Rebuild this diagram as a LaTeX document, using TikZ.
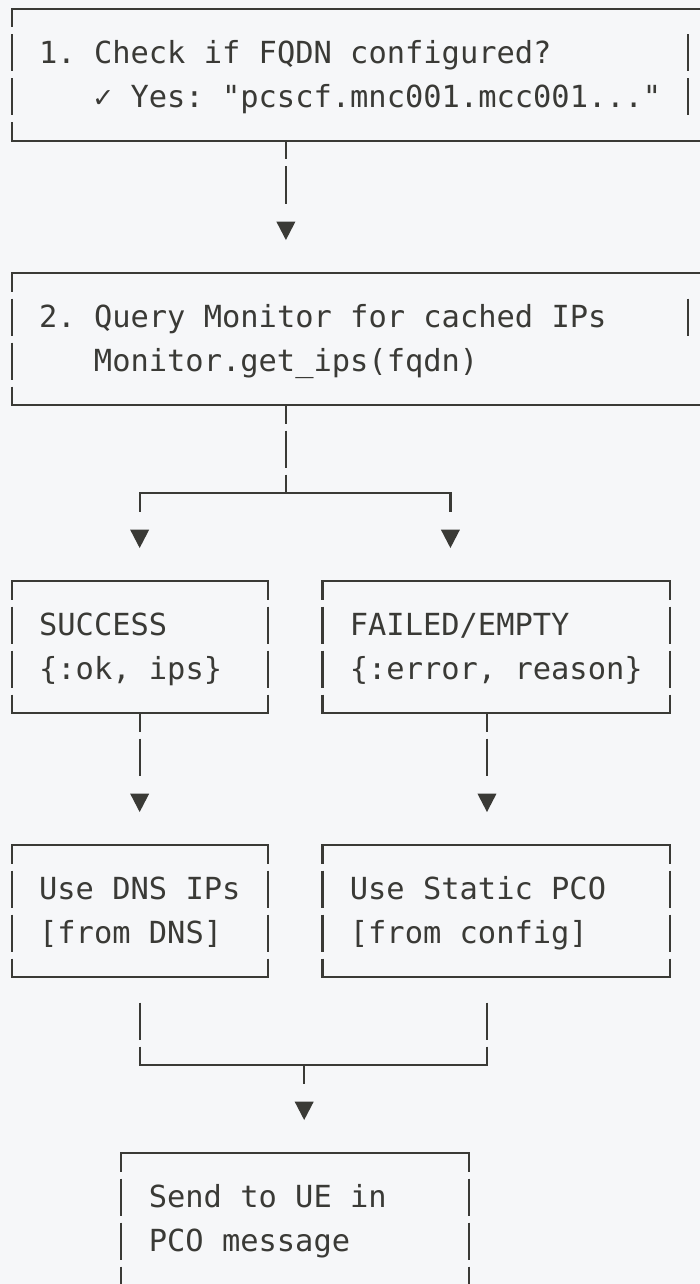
\documentclass[tikz,border=0pt]{standalone}
\usepackage{fontspec}
\newfontfamily\dmono{DejaVu Sans Mono}
\usetikzlibrary{calc}
\definecolor{ink}{HTML}{3A3A36}
\definecolor{bgc}{HTML}{F6F7F9}
% column centre, column left edge, row centre, text baseline (in px)
\newcommand\colx[1]{11.7+18.28*(#1)}
\newcommand\coll[1]{2.56+18.28*(#1)}
\newcommand\rowy[1]{9+44*(#1)}
\newcommand\basey[1]{19.5+44*(#1)}
\newcommand\abox[5]{%
  \node[boxn, minimum width={18.28*(#4-#2)}, minimum height={44*(#5-#3)}]
    (#1) at ({\colx{(#2+#4)/2}},{\rowy{(#3+#5)/2}}) {};
  \draw[hl] (#1.north west) -- (#1.north east);
  \draw[hl] (#1.south west) -- (#1.south east);
  \draw[vl] (#1.north west) -- (#1.south west);
  \draw[vl] (#1.north east) -- (#1.south east);}
\newcommand\atext[4]{\node[txt] (#1) at ({\coll{#2}},{\basey{#3}}) {#4};}
% arrow head: name, column, row
\newcommand\ahead[3]{%
  \node[trin] (#1) at ({\colx{#2}},{\rowy{#3}+1.85}) {};
  \fill[ink] (#1.north west) -- (#1.north east) -- (#1.south) -- cycle;}
\begin{document}
\begin{tikzpicture}[x=1pt,y=-1pt,
  boxn/.style={rectangle, draw=none, inner sep=0pt, outer sep=0pt},
  trin/.style={rectangle, draw=none, inner sep=0pt, outer sep=0pt, minimum width=19pt, minimum height=18.3pt},
  hl/.style={draw=ink, line width=2.2pt, line cap=rect},
  vl/.style={draw=ink, line width=2.2pt, dash pattern=on 37pt off 7pt, dash phase=18.5pt},
  bar/.style={draw=ink, line width=2.2pt},
  txt/.style={font=\dmono\fontsize{30.4}{44}\selectfont\frenchspacing, text=ink, inner sep=0pt, outer sep=0pt, anchor=base west},
  conn/.style={draw=ink, line width=2.2pt, dash pattern=on 18.5pt off 7pt on 37pt off 2000pt},
  split/.style={draw=ink, line width=2.2pt, dash pattern=on 18.5pt off 7pt on 37pt off 7pt on 18.5pt off 2000pt},
  stub/.style={draw=ink, line width=2.2pt, dash pattern=on 18.5pt off 2000pt},
  merge/.style={draw=ink, line width=2.2pt, dash pattern=on 0pt off 25.5pt on 37pt off 7pt on 18.5pt off 2000pt}
]
\fill[bgc] (0,0) rectangle (700,1284);
\useasboundingbox (0,0) rectangle (700,1284);

% boxes
\abox{b1}{0}{0}{39}{3}
\abox{b2}{0}{6}{39}{9}
\abox{b3}{0}{13}{14}{16}
\abox{b4}{17}{13}{36}{16}
\abox{b5}{0}{19}{14}{22}
\abox{b6}{17}{19}{36}{22}
\abox{b7}{6}{26}{25}{29}

% stray right bars of the wide boxes
\draw[bar] ({\colx{37}},{\rowy{1}-18.5}) -- ++(0,37);
\draw[bar] ({\colx{37}},{\rowy{2}-18.5}) -- ++(0,37);
\draw[bar] ({\colx{37}},{\rowy{7}-18.5}) -- ++(0,37);

% texts
\atext{b1a}{2}{1}{1. Check if FQDN configured?}
\atext{b1b}{5}{2}{✓ Yes: "pcscf.mnc001.mcc001..."}
\atext{b2a}{2}{7}{2. Query Monitor for cached IPs}
\atext{b2b}{5}{8}{Monitor.get\_ips(fqdn)}
\atext{b3a}{2}{14}{SUCCESS}
\atext{b3b}{2}{15}{\{:ok, ips\}}
\atext{b4a}{19}{14}{FAILED/EMPTY}
\atext{b4b}{19}{15}{\{:error, reason\}}
\atext{b5a}{2}{20}{Use DNS IPs}
\atext{b5b}{2}{21}{[from DNS]}
\atext{b6a}{19}{20}{Use Static PCO}
\atext{b6b}{19}{21}{[from config]}
\atext{b7a}{8}{27}{Send to UE in}
\atext{b7b}{8}{28}{PCO message}

% arrow heads
\ahead{t1}{15}{5}
\ahead{t2}{7}{12}
\ahead{t3}{24}{12}
\ahead{t4}{7}{18}
\ahead{t5}{26}{18}
\ahead{t6}{16}{25}

% connectors
\draw[conn] (b1.south -| t1) -- (t1.north);

\coordinate (s1) at ({\colx{15}},{\rowy{11}});
\draw[split] (b2.south -| s1) -- (s1);
\draw[hl] (s1 -| t2) -- (s1 -| t3);
\draw[stub] (s1 -| t2) -- (t2.north);
\draw[stub] (s1 -| t3) -- (t3.north);

\draw[conn] (b3.south -| t4) -- (t4.north);
\draw[conn] (b4.south -| t5) -- (t5.north);

\coordinate (m1) at ({\colx{16}},{\rowy{24}});
\draw[merge] (b5.south -| t4) -- (m1 -| t4);
\draw[merge] (b6.south -| t5) -- (m1 -| t5);
\draw[hl] (m1 -| t4) -- (m1 -| t5);
\draw[stub] (m1) -- (t6.north);
\end{tikzpicture}
\end{document}
